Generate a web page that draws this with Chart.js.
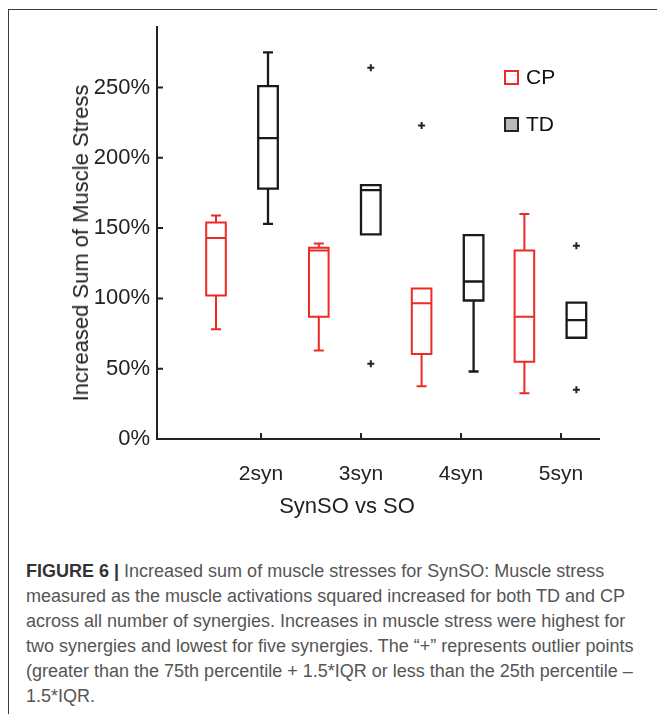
<!DOCTYPE html>
<html>
<head>
<meta charset="utf-8">
<script src="https://cdn.jsdelivr.net/npm/chart.js@4.4.1/dist/chart.umd.min.js"></script>
<style>
  body { margin: 0; background: #fff; font-family: "Liberation Sans", Arial, sans-serif; }
  #page { position: relative; width: 657px; height: 714px; overflow: hidden; }
  #frame { position: absolute; left: 8px; top: 9px; width: 700px; height: 720px;
           border-left: 1.5px solid #3a3a3a; border-top: 1.5px solid #3a3a3a; }
  #chart { position: absolute; left: 0; top: 0; }
  .axis-title { position: absolute; font-size: 22px; color: #222; white-space: nowrap;
                transform: translate(-50%, -50%); }
  #ytitle { left: 81px; top: 243px; transform: translate(-50%, -50%) rotate(-90deg); }
  #xtitle { left: 347px; top: 506px; }
  .legend { position: absolute; left: 504px; height: 24px; font-size: 21px; color: #111;
            display: flex; align-items: center; }
  .swatch { box-sizing: border-box; width: 15px; height: 15px; margin-right: 7px; }
  #caption { position: absolute; left: 26px; top: 559px; font-size: 18px; line-height: 25px;
             color: #555; white-space: nowrap; }
  #caption b { color: #333; }
</style>
</head>
<body>
<div id="page">
  <div id="frame"></div>
  <canvas id="chart" width="657" height="520"></canvas>
  <div class="axis-title" id="ytitle">Increased Sum of Muscle Stress</div>
  <div class="axis-title" id="xtitle">SynSO vs SO</div>
  <div class="legend" style="top:65px"><div class="swatch" style="border:2px solid #ee2a24;background:#fff"></div>CP</div>
  <div class="legend" style="top:112px"><div class="swatch" style="border:2px solid #222;background:#b9b9bd"></div>TD</div>
  <div id="caption">
    <b>FIGURE 6 |</b> Increased sum of muscle stresses for SynSO: Muscle stress<br>
    measured as the muscle activations squared increased for both TD and CP<br>
    across all number of synergies. Increases in muscle stress were highest for<br>
    two synergies and lowest for five synergies. The “+” represents outlier points<br>
    (greater than the 75th percentile + 1.5*IQR or less than the 25th percentile –<br>
    1.5*IQR.
  </div>
</div>

<script>
// categories and tick labels
var categories = ["2syn", "3syn", "4syn", "5syn"];
var yTickValues = [0, 50, 100, 150, 200, 250];

// CP (red) box values, % increase
var cpWhiskerLow  = [78, 63, 37.5, 32.5];
var cpQ1          = [102, 87, 60.5, 55];
var cpMedian      = [143, 134, 96.5, 87];
var cpQ3          = [154, 136, 107, 134];
var cpWhiskerHigh = [159, 139, 107, 160];
var cpOutliers    = [[], [], [223], []];

// TD (black) box values, % increase
var tdWhiskerLow  = [153, 145.5, 48, 72];
var tdQ1          = [178, 145.5, 98.5, 72];
var tdMedian      = [214, 177, 112, 84.5];
var tdQ3          = [251, 180.5, 145, 97];
var tdWhiskerHigh = [275, 180.5, 145, 97];
var tdOutliers    = [[], [264, 53.5], [], [137.5, 35]];

// layout of the groups along x (in category units)
var groupSpacing = 1.028;
var cpOffset = -0.45;
var tdOffset = 0.07;
var halfBox = 0.098;
var halfCap = 0.05;

var red = "#ee2a24";
var black = "#1a1a1a";
var axisColor = "#222";

function boxLines(offset, lo, q1, med, q3, hi) {
  var pts = [];
  for (var i = 0; i < q1.length; i++) {
    var c = i * groupSpacing + offset;
    var l = c - halfBox, r = c + halfBox;
    // box outline
    pts.push({x: l, y: q1[i]}, {x: r, y: q1[i]}, {x: r, y: q3[i]}, {x: l, y: q3[i]}, {x: l, y: q1[i]}, {x: r, y: q1[i]}, {x: c, y: null});
    // median
    pts.push({x: l, y: med[i]}, {x: r, y: med[i]}, {x: c, y: null});
    // whiskers + caps
    pts.push({x: c, y: q3[i]}, {x: c, y: hi[i]}, {x: c, y: null});
    pts.push({x: c - halfCap, y: hi[i]}, {x: c + halfCap, y: hi[i]}, {x: c, y: null});
    pts.push({x: c, y: q1[i]}, {x: c, y: lo[i]}, {x: c, y: null});
    pts.push({x: c - halfCap, y: lo[i]}, {x: c + halfCap, y: lo[i]}, {x: c, y: null});
  }
  return pts;
}

function outlierPoints(offset, outliers) {
  var pts = [];
  outliers.forEach(function (vals, i) {
    vals.forEach(function (v) {
      pts.push({x: i * groupSpacing + offset, y: v});
    });
  });
  return pts;
}

// small tick marks drawn inside the axes
var innerTicks = {
  id: "innerTicks",
  afterDraw: function (chart) {
    var ctx = chart.ctx, area = chart.chartArea;
    var xs = chart.scales.x, ys = chart.scales.y;
    ctx.save();
    ctx.strokeStyle = axisColor;
    ctx.lineWidth = 2;
    ctx.beginPath();
    xs.ticks.forEach(function (t) {
      var px = xs.getPixelForValue(t.value);
      ctx.moveTo(px, area.bottom);
      ctx.lineTo(px, area.bottom - 6);
    });
    ys.ticks.forEach(function (t) {
      var py = ys.getPixelForValue(t.value);
      ctx.moveTo(area.left, py);
      ctx.lineTo(area.left + 6, py);
    });
    ctx.stroke();
    ctx.restore();
  }
};

var lineStyle = {showLine: true, pointRadius: 0, pointHoverRadius: 0, borderWidth: 2,
  tension: 0, spanGaps: false, borderJoinStyle: "miter", borderCapStyle: "butt", fill: false};

var ctx = document.getElementById("chart").getContext("2d");
var myChart = new Chart(ctx, {
  type: "scatter",
  data: {
    datasets: [
      Object.assign({label: "CP", data: boxLines(cpOffset, cpWhiskerLow, cpQ1, cpMedian, cpQ3, cpWhiskerHigh),
        borderColor: red}, lineStyle),
      Object.assign({label: "TD", data: boxLines(tdOffset, tdWhiskerLow, tdQ1, tdMedian, tdQ3, tdWhiskerHigh),
        borderColor: black}, lineStyle, {borderWidth: 2.3}),
      {label: "CP outliers", data: outlierPoints(cpOffset, cpOutliers), pointStyle: "cross",
        pointRadius: 3.5, borderWidth: 2, borderColor: axisColor, showLine: false},
      {label: "TD outliers", data: outlierPoints(tdOffset, tdOutliers), pointStyle: "cross",
        pointRadius: 3.5, borderWidth: 2, borderColor: axisColor, showLine: false}
    ]
  },
  options: {
    responsive: false,
    animation: false,
    devicePixelRatio: 1,
    layout: {padding: {left: 57, top: 27, right: 58, bottom: 31}},
    plugins: {legend: {display: false}, tooltip: {enabled: false}},
    scales: {
      x: {
        type: "linear",
        min: -1.04,
        max: 3.38,
        afterFit: function (scale) { scale.height = 50; },
        afterBuildTicks: function (scale) {
          scale.ticks = categories.map(function (c, i) { return {value: i}; });
        },
        grid: {display: false, drawTicks: false},
        border: {display: true, color: axisColor, width: 2},
        ticks: {
          autoSkip: false, maxRotation: 0, padding: 23, color: "#222",
          font: {family: "'Liberation Sans', Arial, sans-serif", size: 21},
          callback: function (v) { return categories[v]; }
        }
      },
      y: {
        min: 0,
        max: 293,
        afterFit: function (scale) { scale.width = 100; },
        afterBuildTicks: function (scale) {
          scale.ticks = yTickValues.map(function (v) { return {value: v}; });
        },
        grid: {display: false, drawTicks: false},
        border: {display: true, color: axisColor, width: 2},
        ticks: {
          padding: 7, color: "#222",
          font: {family: "'Liberation Sans', Arial, sans-serif", size: 22},
          callback: function (v) { return v + "%"; }
        }
      }
    }
  },
  plugins: [innerTicks]
});
</script>
</body>
</html>
